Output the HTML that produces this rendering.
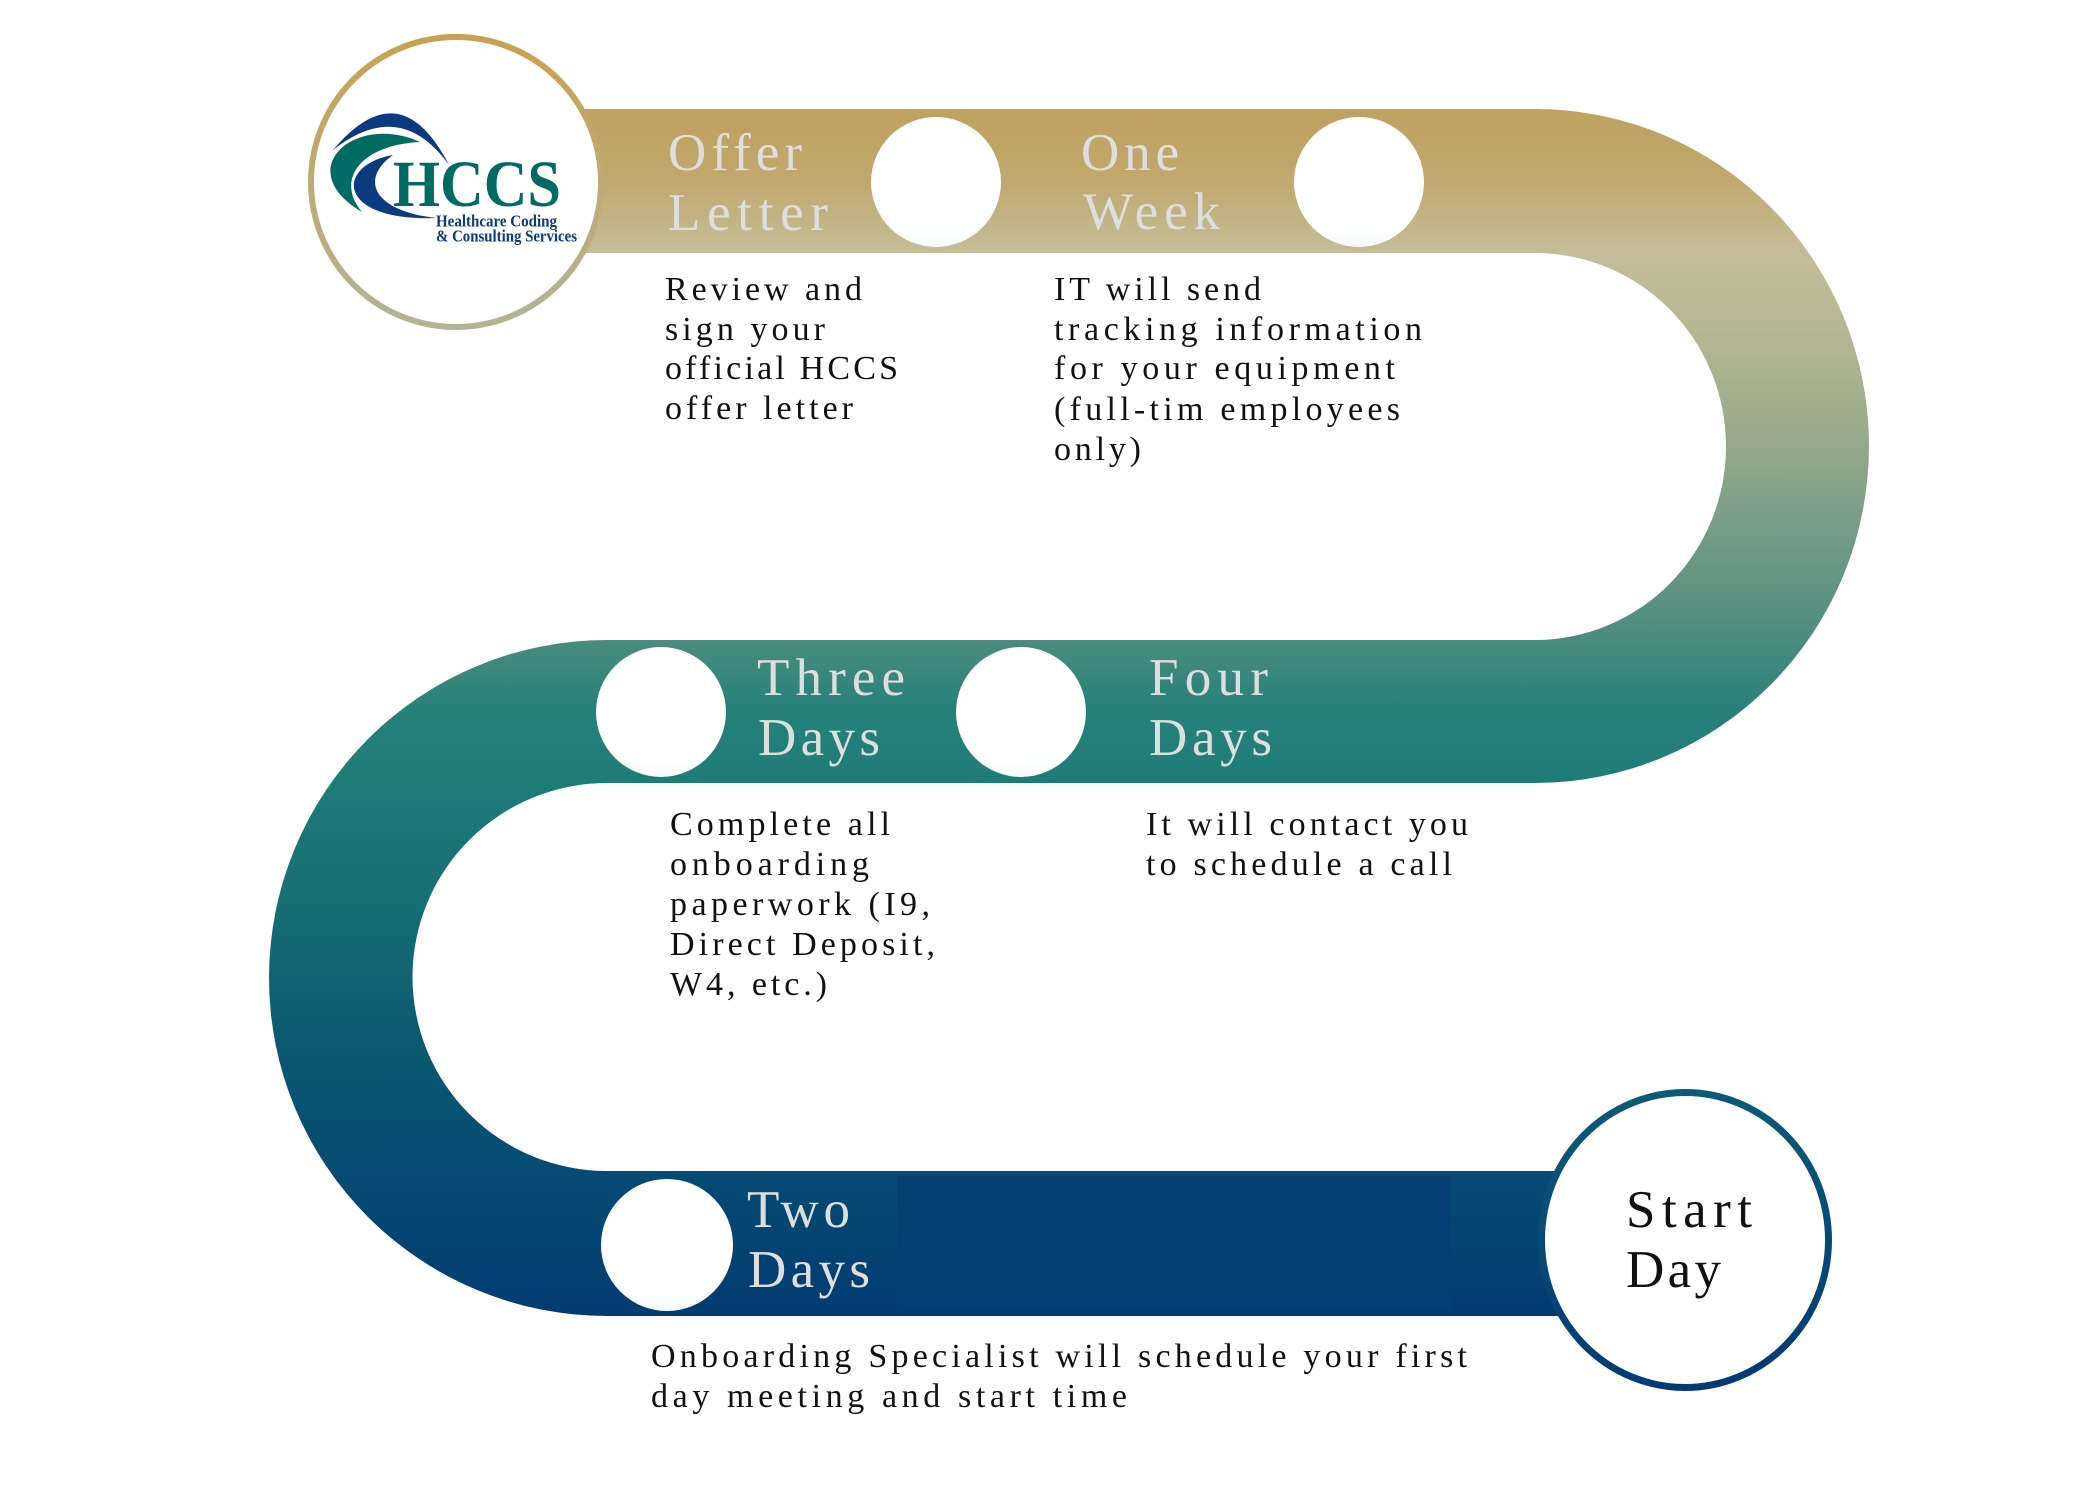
<!DOCTYPE html>
<html>
<head>
<meta charset="utf-8">
<style>
html,body{margin:0;padding:0;background:#ffffff;}
svg{display:block;}
</style>
</head>
<body>
<svg width="2100" height="1500" viewBox="0 0 2100 1500" xmlns="http://www.w3.org/2000/svg">
  <defs>
    <linearGradient id="road" gradientUnits="userSpaceOnUse" x1="0" y1="109" x2="0" y2="1316">
      <stop offset="0" stop-color="#c0a160"/>
      <stop offset="0.059" stop-color="#c1a86e"/>
      <stop offset="0.119" stop-color="#c4bd98"/>
      <stop offset="0.183" stop-color="#b6b793"/>
      <stop offset="0.283" stop-color="#93a88a"/>
      <stop offset="0.374" stop-color="#6a9884"/>
      <stop offset="0.44" stop-color="#4b8c7e"/>
      <stop offset="0.498" stop-color="#26817a"/>
      <stop offset="0.56" stop-color="#1e7c77"/>
      <stop offset="0.655" stop-color="#176e74"/>
      <stop offset="0.78" stop-color="#0b5871"/>
      <stop offset="0.88" stop-color="#054b73"/>
      <stop offset="1" stop-color="#033b71"/>
    </linearGradient>
    <linearGradient id="dot" x1="0" y1="0" x2="0" y2="1">
      <stop offset="0" stop-color="#ffffff"/>
      <stop offset="0.8" stop-color="#ffffff"/>
      <stop offset="1" stop-color="#f8fafa"/>
    </linearGradient>
    <linearGradient id="logoRing" x1="0" y1="0" x2="0" y2="1">
      <stop offset="0" stop-color="#c9a152"/>
      <stop offset="1" stop-color="#b3b495"/>
    </linearGradient>
    <linearGradient id="startRing" x1="0" y1="0" x2="0" y2="1">
      <stop offset="0" stop-color="#0b5a79"/>
      <stop offset="1" stop-color="#033a72"/>
    </linearGradient>
  </defs>

  <!-- S-shaped road -->
  <path fill="url(#road)" d="
    M 560 109
    L 1535 109
    A 334 337 0 0 1 1535 783
    L 607 783
    A 194 193.5 0 0 0 607 1171
    L 1560 1171
    L 1560 1316
    L 607 1316
    A 338 338 0 0 1 607 640
    L 1535 640
    A 191 193.5 0 0 0 1535 253
    L 560 253
    Z"/>

  <!-- subtle flat panel in bottom band -->
  <rect x="897" y="1176" width="554" height="134" fill="#033f73"/>

  <!-- white milestone dots -->
  <circle cx="936" cy="182" r="65" fill="url(#dot)"/>
  <circle cx="1359" cy="182" r="65" fill="url(#dot)"/>
  <circle cx="661" cy="712" r="65" fill="url(#dot)"/>
  <circle cx="1021" cy="712" r="65" fill="url(#dot)"/>
  <circle cx="667" cy="1245" r="66" fill="url(#dot)"/>

  <!-- Logo circle -->
  <circle cx="456" cy="182" r="145" fill="#ffffff" stroke="url(#logoRing)" stroke-width="6"/>
  <!-- logo swooshes -->
  <path fill="#0c3a80" d="M 333 150 Q 400 70 449 165 Q 400 97 333 150 Z"/>
  <path fill="#006b63" d="M 420 142 C 355 112, 290 170, 362 212 C 335 180, 360 145, 420 142 Z"/>
  <path fill="#0c3a80" d="M 393 155 C 335 165, 335 222, 437 218 C 375 212, 358 180, 393 155 Z"/>
  <text x="393" y="206" font-family="Liberation Serif, serif" font-weight="bold" font-size="66" fill="#006b63" textLength="168" lengthAdjust="spacingAndGlyphs">HCCS</text>
  <text x="436" y="226.5" font-family="Liberation Serif, serif" font-weight="bold" font-size="17" fill="#0c3a80" textLength="121" lengthAdjust="spacingAndGlyphs">Healthcare Coding</text>
  <text x="436" y="241.5" font-family="Liberation Serif, serif" font-weight="bold" font-size="17" fill="#0c3a80" textLength="141" lengthAdjust="spacingAndGlyphs">&amp; Consulting Services</text>

  <!-- Start Day circle -->
  <ellipse cx="1685" cy="1240" rx="143.5" ry="147.5" fill="#ffffff" stroke="url(#startRing)" stroke-width="7"/>

  <!-- Labels on road -->
  <g font-family="Liberation Serif, serif" font-size="53" fill="#dedede" lengthAdjust="spacing">
    <text x="668" y="170" textLength="134">Offer</text>
    <text x="668" y="230" textLength="160">Letter</text>
    <text x="1081" y="170" textLength="98">One</text>
    <text x="1083" y="229" textLength="137">Week</text>
    <text x="757" y="695" textLength="148">Three</text>
    <text x="758" y="755" textLength="122">Days</text>
    <text x="1149" y="695" textLength="119">Four</text>
    <text x="1149" y="755" textLength="123">Days</text>
    <text x="747" y="1227" textLength="103">Two</text>
    <text x="748" y="1287" textLength="122">Days</text>
  </g>
  <g font-family="Liberation Serif, serif" font-size="53" fill="#111111" lengthAdjust="spacing">
    <text x="1626" y="1227" textLength="126">Start</text>
    <text x="1626" y="1287" textLength="95">Day</text>
  </g>

  <!-- Body texts -->
  <g font-family="Liberation Serif, serif" font-size="34" fill="#111111" lengthAdjust="spacing">
    <text x="665" y="300" textLength="197">Review and</text>
    <text x="665" y="340" textLength="160">sign your</text>
    <text x="665" y="379" textLength="233">official HCCS</text>
    <text x="665" y="419" textLength="188">offer letter</text>

    <text x="1054" y="300" textLength="207">IT will send</text>
    <text x="1054" y="340" textLength="368">tracking information</text>
    <text x="1054" y="379" textLength="341">for your equipment</text>
    <text x="1054" y="420" textLength="346">(full-tim employees</text>
    <text x="1054" y="460" textLength="87">only)</text>

    <text x="670" y="835" textLength="220">Complete all</text>
    <text x="670" y="875" textLength="199">onboarding</text>
    <text x="670" y="915" textLength="260">paperwork (I9,</text>
    <text x="670" y="955" textLength="265">Direct Deposit,</text>
    <text x="670" y="995" textLength="157">W4, etc.)</text>

    <text x="1146" y="835" textLength="322">It will contact you</text>
    <text x="1146" y="875" textLength="306">to schedule a call</text>

    <text x="651" y="1367" textLength="816">Onboarding Specialist will schedule your first</text>
    <text x="651" y="1407" textLength="476">day meeting and start time</text>
  </g>
</svg>
</body>
</html>
